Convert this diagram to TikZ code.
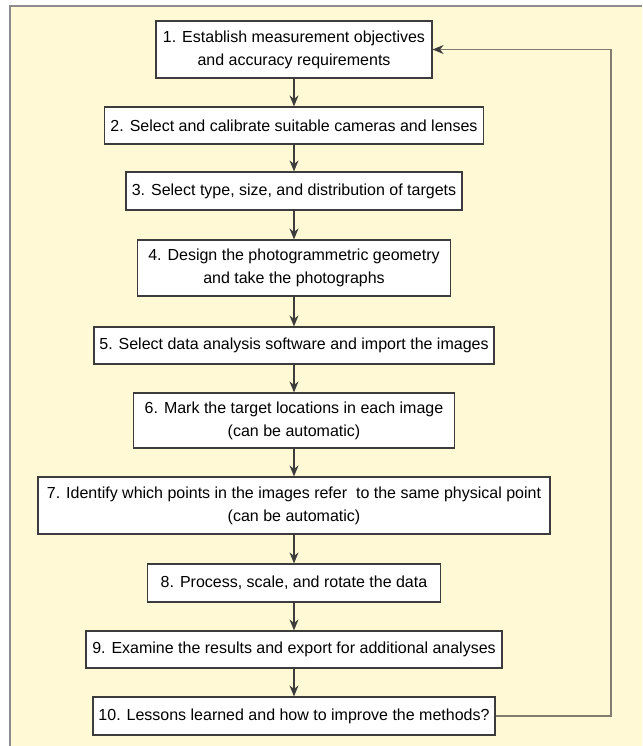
\documentclass[tikz,border=0pt]{standalone}
\usepackage{fontspec}
\setmainfont{Liberation Sans}
\usepackage{tikz}
\usetikzlibrary{arrows.meta,calc}
\definecolor{panelfill}{RGB}{255,249,214}
\definecolor{panelrule}{RGB}{140,140,140}
\definecolor{looprule}{RGB}{130,124,112}
\definecolor{boxrule}{RGB}{60,60,60}

\tikzset{
  stage/.style={draw=boxrule, line width=1.2pt, fill=white, align=center,
    inner sep=0pt, font=\fontsize{16}{23}\selectfont},
  flow/.style={draw=boxrule, line width=1.3pt, -{Stealth[length=11pt,width=9pt]}},
  loopback/.style={draw=looprule, line width=1.6pt, -{Stealth[length=11pt,width=9pt,color=boxrule]}}
}

\begin{document}
\begin{tikzpicture}[x=1pt,y=-1pt]
\useasboundingbox (0,0) rectangle (642,746);
\clip (0,0) rectangle (642,746);
\draw[panelrule, line width=1.5pt, fill=panelfill] (10,6) rectangle (660,770);

% the ten steps
\node[stage, minimum width=276, minimum height=57] (n1) at (294,49.5)
  {1. Establish measurement objectives\\and accuracy requirements};
\node[stage, minimum width=379, minimum height=37] (n2) at (294,125.5)
  {2. Select and calibrate suitable cameras and lenses};
\node[stage, minimum width=336, minimum height=38] (n3) at (294,191)
  {3. Select type, size, and distribution of targets};
\node[stage, minimum width=313, minimum height=56] (n4) at (294,268)
  {4. Design the photogrammetric geometry\\and take the photographs};
\node[stage, minimum width=400, minimum height=37] (n5) at (294,345.5)
  {5. Select data analysis software and import the images};
\node[stage, minimum width=321, minimum height=55] (n6) at (294,420.5)
  {6. Mark the target locations in each image\\(can be automatic)};
\node[stage, minimum width=512, minimum height=57] (n7) at (294,505.5)
  {7. Identify which points in the images refer\ \ to the same physical point\\(can be automatic)};
\node[stage, minimum width=293, minimum height=38] (n8) at (294,583)
  {8. Process, scale, and rotate the data};
\node[stage, minimum width=416, minimum height=37] (n9) at (294,649.5)
  {9. Examine the results and export for additional analyses};
\node[stage, minimum width=402, minimum height=38] (n10) at (294,716)
  {10. Lessons learned and how to improve the methods?};

% straight flow
\foreach \a/\b in {n1/n2,n2/n3,n3/n4,n4/n5,n5/n6,n6/n7,n7/n8,n8/n9,n9/n10}
  \draw[flow] (\a) -- (\b);

% back to the start
\coordinate (loop) at (611,49.5);
\draw[loopback] (n10.east) -| (loop) -- (n1.east);
\end{tikzpicture}
\end{document}
